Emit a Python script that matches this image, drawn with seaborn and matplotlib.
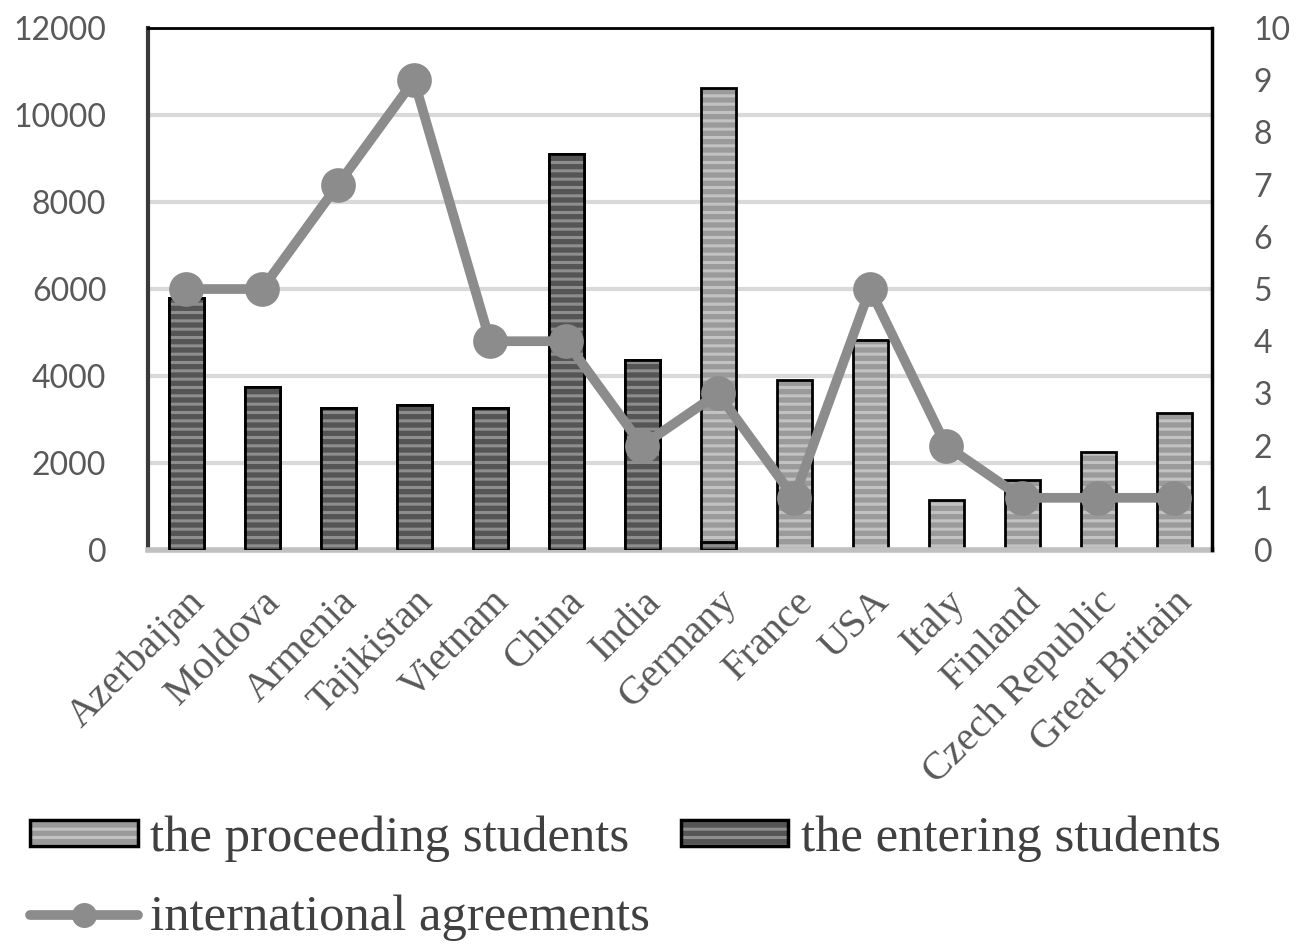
import matplotlib
matplotlib.use("Agg")
import matplotlib.pyplot as plt
import seaborn as sns
from matplotlib.colors import to_rgba
from matplotlib.patches import Patch
from matplotlib.lines import Line2D

countries = ["Azerbaijan", "Moldova", "Armenia", "Tajikistan", "Vietnam", "China", "India",
             "Germany", "France", "USA", "Italy", "Finland", "Czech Republic", "Great Britain"]
entering = [5800, 3750, 3270, 3330, 3260, 9100, 4370, 180, 0, 0, 0, 0, 0, 0]
proceeding = [0, 0, 0, 0, 0, 0, 0, 10450, 3900, 4830, 1150, 1610, 2250, 3150]
agreements = [5, 5, 7, 9, 4, 4, 2, 3, 1, 5, 2, 1, 1, 1]
left_ticks = [0, 2000, 4000, 6000, 8000, 10000, 12000]
right_ticks = list(range(0, 11))

totals = [e + p for e, p in zip(entering, proceeding)]

sns.set_theme(style="white")
plt.rcParams["hatch.linewidth"] = 2.2

LIGHT_FILL, LIGHT_STRIPE = "#9a9a9a", "#c2c2c2"
DARK_FILL, DARK_STRIPE = "#555555", "#8e8e8e"
LINE_COLOR = "#8c8c8c"
TEXT_COLOR = "#595959"

fig = plt.figure(figsize=(13.02, 9.47), dpi=100)
ax = fig.add_axes([0.1137, 0.4192, 0.8172, 0.5512])


def stripe(patches, stripe_color):
    for p in patches:
        p.set_hatch("--")
        if hasattr(p, "set_hatchcolor"):
            p.set_hatchcolor(stripe_color)
        else:
            p._hatch_color = to_rgba(stripe_color)


# proceeding students stacked above the entering students
sns.barplot(x=countries, y=totals, color=LIGHT_FILL, saturation=1, width=0.46,
            edgecolor="black", linewidth=2, ax=ax, zorder=2)
n_first = len(ax.patches)
stripe(ax.patches[:n_first], LIGHT_STRIPE)
sns.barplot(x=countries, y=entering, color=DARK_FILL, saturation=1, width=0.46,
            edgecolor="black", linewidth=2, ax=ax, zorder=3)
second = ax.patches[n_first:]
stripe(second, DARK_STRIPE)
for p, v in zip(second, entering):
    if v == 0:
        p.set_visible(False)

ax.set_ylim(0, 12000)
ax.set_yticks(left_ticks)
ax.set_xlim(-0.5, len(countries) - 0.5)
ax.yaxis.grid(True, color="#d9d9d9", linewidth=3)
ax.set_axisbelow(True)
ax.set_xlabel("")
ax.set_ylabel("")
ax.tick_params(axis="both", length=0)
ax.tick_params(axis="y", pad=30, labelsize=23, labelcolor=TEXT_COLOR)
for t in ax.get_yticklabels():
    t.set_fontfamily("Lato")
ax.tick_params(axis="x", pad=24)
ax.set_xticks(range(len(countries)))
ax.set_xticklabels(countries, rotation=45, ha="right", rotation_mode="anchor",
                   fontfamily="Liberation Serif", fontsize=29, color=TEXT_COLOR)

ax.spines["left"].set_color("#3a3a3a")
ax.spines["left"].set_linewidth(3)
ax.spines["bottom"].set_color("#c0c0c0")
ax.spines["bottom"].set_linewidth(4)
ax.spines["top"].set_color("black")
ax.spines["top"].set_linewidth(2)
ax.spines["right"].set_visible(False)

# number of international agreements on the secondary axis
ax2 = ax.twinx()
sns.lineplot(x=countries, y=agreements, ax=ax2, color=LINE_COLOR, linewidth=7,
             marker="o", markersize=25, markeredgewidth=0, sort=False)
ax2.set_ylim(0, 10)
ax2.set_yticks(right_ticks)
ax2.set_ylabel("")
ax2.tick_params(axis="y", length=0, pad=30, labelsize=23, labelcolor=TEXT_COLOR)
for t in ax2.get_yticklabels():
    t.set_fontfamily("Lato")
for s in ("left", "bottom", "top"):
    ax2.spines[s].set_visible(False)
ax2.spines["right"].set_color("black")
ax2.spines["right"].set_linewidth(2.5)
ax2.grid(False)

h_proc = Patch(facecolor=LIGHT_FILL, edgecolor="black", linewidth=2.5, hatch="--")
h_ent = Patch(facecolor=DARK_FILL, edgecolor="black", linewidth=2.5, hatch="--")
stripe([h_proc], LIGHT_STRIPE)
stripe([h_ent], DARK_STRIPE)
h_line = Line2D([], [], color=LINE_COLOR, linewidth=7, marker="o", markersize=18,
                markeredgewidth=0)

leg = fig.legend([h_proc, h_line, h_ent],
                 ["the proceeding students", "international agreements", "the entering students"],
                 ncol=2, loc="upper left", bbox_to_anchor=(0.023, 0.139),
                 frameon=False, prop={"family": "Liberation Serif", "size": 36.5},
                 handlelength=2.13, handleheight=0.42, handletextpad=0.24,
                 columnspacing=0.6, labelspacing=0.65, borderaxespad=0, borderpad=0)
for t in leg.get_texts():
    t.set_color("#404040")

fig.savefig("out.png", dpi=100)
